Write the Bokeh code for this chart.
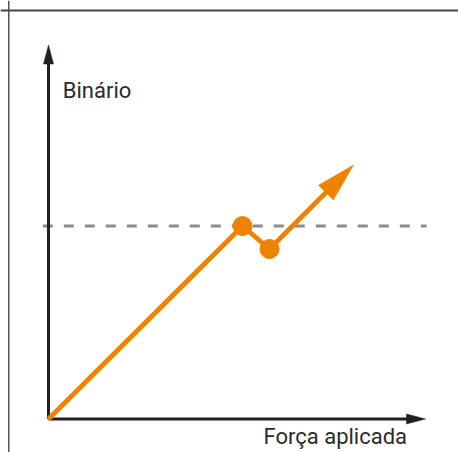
import numpy as np
from bokeh.plotting import figure
from bokeh.models import Range1d, Span
from bokeh.core.properties import value
from bokeh.embed import file_html
from bokeh.resources import INLINE

# ---- data (chart units) ----
path_x = [0.0, 19.4, 22.1, 30.5]      # applied force
path_y = [0.0, 19.3, 17.0, 25.4]      # torque
marker_x = [19.4, 22.1]
marker_y = [19.3, 17.0]
threshold = 19.3
dash_x = [-0.57, 37.8]
x_axis_end = 37.7
y_axis_end = 37.4
y_label = "Binário"
x_label = "Força aplicada"

ORANGE = "#EF8200"
INK = "#231F20"
FONT = "Roboto"

p = figure(width=458, height=452, output_backend="svg", toolbar_location=None,
           x_range=Range1d(-4.8, 41.0), y_range=Range1d(-3.35, 41.85),
           min_border=0, min_border_left=0, min_border_right=0,
           min_border_top=0, min_border_bottom=0)
p.axis.visible = False
p.grid.visible = False
p.outline_line_color = None
p.background_fill_color = "white"
p.border_fill_color = "white"

# page frame (left and top edges)
p.add_layout(Span(location=-3.975, dimension="height", line_color="#555555", line_width=1.5))
p.add_layout(Span(location=40.85, dimension="width", line_color="#444444", line_width=2))

# threshold dashed line
p.line(dash_x, [threshold, threshold], line_color="#8C8C8C", line_width=3, line_dash="10 11")


def head(tip, frm, L, W):
    t = np.array(tip, float)
    f = np.array(frm, float)
    u = (t - f) / np.linalg.norm(t - f)
    n = np.array([-u[1], u[0]])
    b = t - L * u
    pts = [t, b + W * n, b - W * n]
    return [q[0] for q in pts], [q[1] for q in pts], b

# axes
hx, hy, bx = head((x_axis_end, 0), (0, 0), 1.9, 0.5)
p.line([0, bx[0] + 0.2], [0, 0], line_color=INK, line_width=3)
p.patch(hx, hy, fill_color=INK, line_color=INK, line_width=0.5)
hx, hy, by = head((0, y_axis_end), (0, 0), 1.9, 0.5)
p.line([0, 0], [0, by[1] + 0.2], line_color=INK, line_width=3)
p.patch(hx, hy, fill_color=INK, line_color=INK, line_width=0.5)

# orange path with arrow
ax, ay, ab = head((path_x[-1], path_y[-1]), (path_x[-2], path_y[-2]), 3.9, 1.05)
lx = path_x[:-1] + [ab[0] + 0.5 * (path_x[-1] - ab[0])]
ly = path_y[:-1] + [ab[1] + 0.5 * (path_y[-1] - ab[1])]
p.line(lx, ly, line_color=ORANGE, line_width=4.8, line_join="miter")
p.patch(ax, ay, fill_color=ORANGE, line_color=ORANGE, line_width=0.5)
p.scatter(marker_x, marker_y, size=19, fill_color=ORANGE, line_color=ORANGE)

# labels
p.text([1.43], [32.9], text=[y_label], text_font=value(FONT), text_font_size="22px",
       text_color="#2B2B2B", text_baseline="alphabetic", text_align="left")
p.text([21.5], [-1.75], text=[x_label], text_font=value(FONT), text_font_size="22px",
       text_color="#2B2B2B", text_baseline="middle", text_align="left")

open("out.html", "w").write(file_html(p, INLINE))
